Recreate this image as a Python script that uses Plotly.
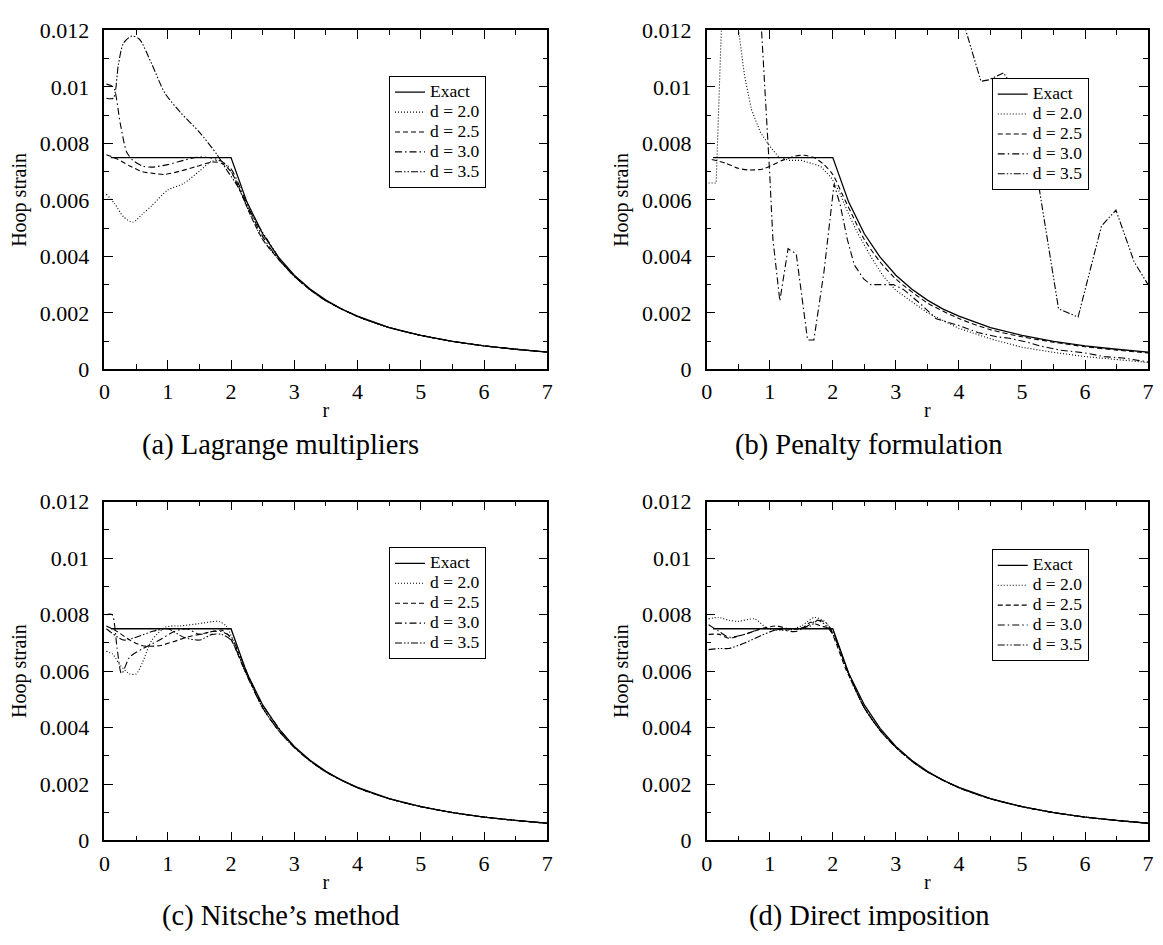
import plotly.graph_objects as go

# ---------------- data ----------------
exact_r = [0.1, 2.0, 2.25, 2.5, 2.75, 3.0, 3.25, 3.5, 3.75, 4.0, 4.5, 5.0, 5.5, 6.0, 6.5, 7.0]
exact_v = [0.0075, 0.0075, 0.00593, 0.0048, 0.00397, 0.00333, 0.00284, 0.00245, 0.00213,
           0.00188, 0.00148, 0.0012, 0.00099, 0.00083, 0.00071, 0.00061]

tail_r = [3.0, 3.25, 3.5, 4.0, 4.5, 5.0, 5.5, 6.0, 6.5, 7.0]
tail_v = [0.00330, 0.00282, 0.00243, 0.00187, 0.00148, 0.0012, 0.00099, 0.00083, 0.00071, 0.00061]

# (a) Lagrange multipliers
a_d20_r = [0.03, 0.16, 0.3, 0.45, 0.6, 0.75, 1.0, 1.25, 1.5, 1.7, 1.85, 2.0, 2.15, 2.3, 2.5, 2.75]
a_d20_v = [0.0062, 0.00587, 0.0054, 0.00521, 0.0055, 0.0058, 0.00635, 0.00658, 0.00702, 0.00737,
           0.00737, 0.0070, 0.0063, 0.0055, 0.0046, 0.0039]
a_d25_r = [0.03, 0.2, 0.4, 0.6, 0.8, 0.95, 1.2, 1.45, 1.7, 1.85, 2.0, 2.15, 2.3, 2.5, 2.75]
a_d25_v = [0.0076, 0.00745, 0.0072, 0.0070, 0.00693, 0.0069, 0.00702, 0.00718, 0.00734, 0.0073,
           0.0070, 0.0063, 0.0055, 0.0046, 0.0039]
a_d30_r = [0.03, 0.14, 0.25, 0.35, 0.45, 0.6, 0.75, 1.0, 1.25, 1.45, 1.65, 1.82, 2.0, 2.15, 2.3, 2.5, 2.75]
a_d30_v = [0.0101, 0.0100, 0.0087, 0.0077, 0.0074, 0.0072, 0.00716, 0.00725, 0.0074, 0.00751,
           0.0075, 0.0074, 0.0071, 0.0064, 0.0056, 0.0047, 0.0039]
a_d35_r = [0.03, 0.14, 0.22, 0.3, 0.43, 0.55, 0.75, 0.95, 1.2, 1.5, 1.78, 1.95, 2.1, 2.25, 2.4, 2.6, 2.8]
a_d35_v = [0.0096, 0.0096, 0.0108, 0.01155, 0.0118, 0.0117, 0.0108, 0.0098, 0.0091, 0.0084,
           0.0076, 0.0070, 0.0065, 0.0058, 0.0052, 0.0045, 0.0038]

# (b) Penalty formulation
b_d20_r = [0.03, 0.15, 0.3, 0.5, 0.6, 0.71, 0.85, 1.0, 1.13, 1.3, 1.5, 1.65, 1.8, 1.97, 2.1, 2.25,
           2.4, 2.6, 2.8, 3.0, 3.25, 3.5, 4.0, 4.5, 5.0, 5.5, 6.0, 6.5, 7.0]
b_d20_v = [0.0066, 0.0066, 0.0165, 0.0121, 0.0104, 0.0092, 0.0084, 0.0079, 0.00755, 0.0074,
           0.0074, 0.0073, 0.0072, 0.0068, 0.0063, 0.0055, 0.0048, 0.0040, 0.0033, 0.0028,
           0.0024, 0.0020, 0.00145, 0.00108, 0.00078, 0.0006, 0.00045, 0.00034, 0.00024]
b_d25_r = [0.08, 0.3, 0.5, 0.66, 0.9, 1.2, 1.4, 1.55, 1.7, 1.86, 2.0, 2.15, 2.3, 2.5, 2.75, 3.0,
           3.5, 4.0, 4.5, 5.0, 5.5, 6.0, 6.5, 7.0]
b_d25_v = [0.00743, 0.0073, 0.00712, 0.00706, 0.0071, 0.0074, 0.00755, 0.00758, 0.0075, 0.00725,
           0.0069, 0.0062, 0.0055, 0.0046, 0.0038, 0.0032, 0.00235, 0.0018, 0.0014, 0.00115,
           0.00096, 0.0008, 0.00068, 0.00058]
b_d30_r = [0.8, 0.87, 1.0, 1.05, 1.16, 1.29, 1.42, 1.6, 1.7, 1.86, 2.02, 2.12, 2.23, 2.34, 2.49,
           2.6, 2.96, 3.12, 3.4, 3.64, 4.0, 4.3, 4.6, 4.8, 5.1, 5.3, 5.6, 6.0, 6.3, 6.6, 7.0]
b_d30_v = [0.0135, 0.012, 0.0069, 0.0046, 0.00242, 0.00427, 0.00409, 0.00104, 0.00104, 0.00346,
           0.00656, 0.0058, 0.0046, 0.0037, 0.0032, 0.0030, 0.0030, 0.00283, 0.0023, 0.00179,
           0.00155, 0.0013, 0.00115, 0.0011, 0.00095, 0.00082, 0.00068, 0.00058, 0.00045,
           0.0004, 0.00026]
b_d35_r = [3.9, 4.11, 4.35, 4.47, 4.71, 4.85, 5.05, 5.27, 5.58, 5.89, 6.26, 6.49, 6.78, 7.0]
b_d35_v = [0.0140, 0.012, 0.0102, 0.01025, 0.0105, 0.0100, 0.0083, 0.00645, 0.00214, 0.00185,
           0.00507, 0.00564, 0.0038, 0.003]

# (c) Nitsche's method
c_d20_r = [0.03, 0.13, 0.25, 0.4, 0.5, 0.6, 0.75, 0.97, 1.2, 1.49, 1.7, 1.81, 1.92, 2.05, 2.2,
           2.35, 2.5, 2.75]
c_d20_v = [0.0067, 0.0066, 0.0062, 0.0059, 0.0059, 0.0063, 0.0071, 0.00756, 0.0076, 0.00768,
           0.00775, 0.00776, 0.0076, 0.0070, 0.0061, 0.0054, 0.0047, 0.0039]
c_d25_r = [0.03, 0.2, 0.4, 0.6, 0.87, 1.1, 1.3, 1.5, 1.7, 1.85, 1.95, 2.05, 2.2, 2.35, 2.5, 2.75]
c_d25_v = [0.0076, 0.0074, 0.0071, 0.0069, 0.0069, 0.00705, 0.0072, 0.0073, 0.0074, 0.00745,
           0.0073, 0.0069, 0.0061, 0.0054, 0.0047, 0.0039]
c_d30_r = [0.03, 0.12, 0.2, 0.27, 0.4, 0.61, 0.87, 1.1, 1.3, 1.5, 1.7, 1.85, 2.0, 2.15, 2.3, 2.5, 2.75]
c_d30_v = [0.0080, 0.0080, 0.0068, 0.0059, 0.0065, 0.0068, 0.0071, 0.0074, 0.0075, 0.0073,
           0.0074, 0.0074, 0.0072, 0.0065, 0.0057, 0.0048, 0.0040]
c_d35_r = [0.03, 0.3, 0.5, 0.75, 1.0, 1.25, 1.5, 1.7, 1.85, 2.0, 2.15, 2.3, 2.5, 2.75]
c_d35_v = [0.0075, 0.0071, 0.0072, 0.0074, 0.0075, 0.0072, 0.0071, 0.0073, 0.0073, 0.0071,
           0.0064, 0.0056, 0.0047, 0.0039]

# (d) Direct imposition
d_d20_r = [0.03, 0.19, 0.35, 0.5, 0.76, 0.97, 1.3, 1.5, 1.71, 1.87, 2.02, 2.15, 2.3, 2.5, 2.75]
d_d20_v = [0.00785, 0.0079, 0.0078, 0.00776, 0.00785, 0.0075, 0.00745, 0.0076, 0.0079, 0.00776,
           0.0073, 0.0065, 0.0056, 0.0047, 0.0039]
d_d25_r = [0.03, 0.2, 0.35, 0.6, 0.87, 1.1, 1.3, 1.5, 1.65, 1.8, 1.95, 2.05, 2.2, 2.35, 2.5, 2.75]
d_d25_v = [0.0073, 0.0073, 0.00716, 0.0073, 0.0075, 0.0076, 0.0075, 0.0075, 0.00773, 0.0076,
           0.0075, 0.0070, 0.0061, 0.0054, 0.0047, 0.0039]
d_d30_r = [0.03, 0.2, 0.35, 0.6, 0.87, 1.1, 1.4, 1.6, 1.75, 1.9, 2.05, 2.2, 2.35, 2.5, 2.75]
d_d30_v = [0.00764, 0.0074, 0.0072, 0.0073, 0.0075, 0.0075, 0.0074, 0.0076, 0.0078, 0.0077,
           0.0071, 0.0062, 0.0054, 0.0047, 0.0039]
d_d35_r = [0.03, 0.2, 0.35, 0.61, 0.87, 1.13, 1.4, 1.65, 1.76, 1.9, 2.05, 2.2, 2.35, 2.5, 2.75]
d_d35_v = [0.00676, 0.0068, 0.0068, 0.0070, 0.00727, 0.00748, 0.0075, 0.0076, 0.0078, 0.0076,
           0.0071, 0.0062, 0.0054, 0.0047, 0.0039]

series_names = ["Exact", "d = 2.0", "d = 2.5", "d = 3.0", "d = 3.5"]
panel_titles = ["(a) Lagrange multipliers", "(b) Penalty formulation",
                "(c) Nitsche\u2019s method", "(d) Direct imposition"]
x_ticks = [0, 1, 2, 3, 4, 5, 6, 7]
y_ticks = [0, 0.002, 0.004, 0.006, 0.008, 0.01, 0.012]
y_tick_text = ["0", "0.002", "0.004", "0.006", "0.008", "0.01", "0.012"]

# ---------------- figure ----------------
W, H = 1163, 945
FONT = "Liberation Serif, Times New Roman, serif"

dashes = ["solid", "1px,2px", "5px,3px", "7px,3px,1.5px,3px", "7px,2px,1.5px,2px,1.5px,2px"]

def with_tail(r, v, add_tail=True):
    if add_tail:
        return list(r) + tail_r, list(v) + tail_v
    return list(r), list(v)

panels = [
    [(a_d20_r, a_d20_v, True, True), (a_d25_r, a_d25_v, True, True),
     (a_d30_r, a_d30_v, True, True), (a_d35_r, a_d35_v, True, True)],
    [(b_d20_r, b_d20_v, False, False), (b_d25_r, b_d25_v, False, True),
     (b_d30_r, b_d30_v, False, False), (b_d35_r, b_d35_v, False, False)],
    [(c_d20_r, c_d20_v, True, True), (c_d25_r, c_d25_v, True, True),
     (c_d30_r, c_d30_v, True, True), (c_d35_r, c_d35_v, True, True)],
    [(d_d20_r, d_d20_v, True, True), (d_d25_r, d_d25_v, True, True),
     (d_d30_r, d_d30_v, True, True), (d_d35_r, d_d35_v, True, True)],
]

# panel pixel boxes: (left, right, top, bottom)
boxes = [(99.5, 547, 19, 367), (708, 1154, 19, 367),
         (99.5, 547, 503, 851), (708, 1154, 503, 851)]
legend_pos = [(387, 66), (996, 68), (387, 550), (996, 552)]
title_pos = [(277, 445), (872, 445), (277, 929), (872, 929)]

def legend_label(s):
    return f'<span style="font-size:17.5px">{s}</span>'

fig = go.Figure()
layout = dict(width=W, height=H, margin=dict(l=0, r=0, t=0, b=0),
              paper_bgcolor="white", plot_bgcolor="white",
              font=dict(family=FONT, color="black"), annotations=[])

for i, (series, box, lp, tp) in enumerate(zip(panels, boxes, legend_pos, title_pos)):
    n = i + 1
    xa = "x" if n == 1 else f"x{n}"
    ya = "y" if n == 1 else f"y{n}"
    lg = "legend" if n == 1 else f"legend{n}"
    fig.add_trace(go.Scatter(x=exact_r, y=exact_v, mode="lines", name=legend_label(series_names[0]),
                             line=dict(color="black", width=1.3, dash="solid"),
                             xaxis=xa, yaxis=ya, legend=lg))
    for k, (r, v, tail, spl) in enumerate(series):
        xr, yv = with_tail(r, v, tail)
        fig.add_trace(go.Scatter(x=xr, y=yv, mode="lines", name=legend_label(series_names[k + 1]),
                                 line=dict(color="black", width=1.1, dash=dashes[k + 1],
                                           shape="spline" if spl else "linear",
                                           smoothing=0.7),
                                 xaxis=xa, yaxis=ya, legend=lg))
    l, r_, t, b = box
    common = dict(showline=True, linecolor="black", linewidth=1.6, mirror="allticks",
                  ticks="inside", ticklen=9, tickwidth=1.3, tickcolor="black",
                  showgrid=False, zeroline=False,
                  tickfont=dict(family=FONT, size=22, color="black"))
    layout["xaxis" if n == 1 else f"xaxis{n}"] = dict(
        domain=[l / W, r_ / W], range=[0, 7], anchor=ya,
        tickvals=x_ticks, ticktext=[str(v) for v in x_ticks], ticklabelstandoff=2,
        minor=dict(ticks="inside", ticklen=5, tickwidth=1.1, tickcolor="black", dtick=0.5, showgrid=False),
        title=dict(text="r", font=dict(family=FONT, size=20), standoff=0), **common)
    layout["yaxis" if n == 1 else f"yaxis{n}"] = dict(
        domain=[1 - b / H, 1 - t / H], range=[0, 0.012], anchor=xa,
        tickvals=y_ticks, ticktext=y_tick_text, ticklabelstandoff=9,
        minor=dict(ticks="inside", ticklen=5, tickwidth=1.1, tickcolor="black", dtick=0.001, showgrid=False),
        title=dict(text="Hoop strain", font=dict(family=FONT, size=20), standoff=8), **common)
    layout[lg] = dict(x=lp[0] / W, y=1 - lp[1] / H, xanchor="left", yanchor="top",
                      bgcolor="white", bordercolor="black", borderwidth=1,
                      font=dict(family=FONT, size=13, color="black"),
                      itemwidth=30, tracegroupgap=0)
    layout["annotations"].append(dict(text=panel_titles[i], x=tp[0] / W, y=1 - tp[1] / H,
                                      xref="paper", yref="paper", xanchor="center",
                                      yanchor="middle", showarrow=False,
                                      font=dict(family=FONT, size=28.5, color="black")))

fig.update_layout(**layout)
fig.write_html("out.html", config={"displayModeBar": False},
               post_script="document.body.style.margin='0';")
